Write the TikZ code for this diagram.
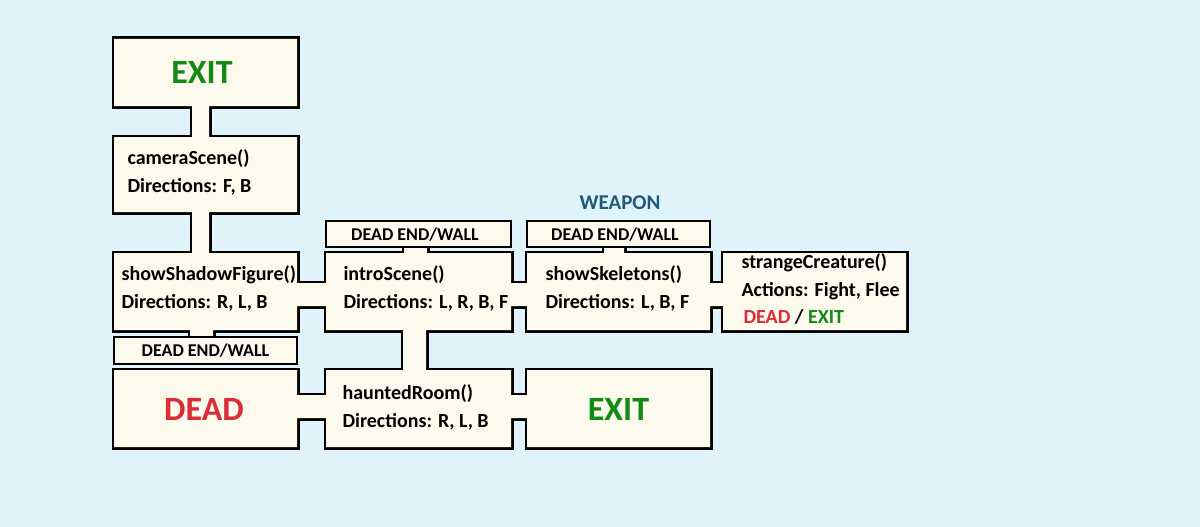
\documentclass[tikz,border=0pt]{standalone}
\usepackage{fontspec}
\setmainfont{Carlito}
\begin{document}
\begin{tikzpicture}[x=1pt,y=-1pt,
  wall/.style={draw=black,line width=5pt},
  de/.style={draw=black,line width=2.5pt,fill=creamc},
  lbl/.style={font=\fontsize{20}{28}\selectfont\bfseries,align=left,anchor=west},
  wl/.style={font=\fontsize{18}{20}\selectfont\bfseries},
  big/.style={font=\fontsize{34}{36}\selectfont\bfseries}]
\definecolor{bg}{HTML}{E0F2FA}
\definecolor{creamc}{HTML}{FCF9ED}
\definecolor{dgreen}{HTML}{138A16}
\definecolor{dred}{HTML}{DC2C36}
\definecolor{teal}{HTML}{1F5A7A}
\fill[bg] (0,0) rectangle (1200,527);
\useasboundingbox (0,0) rectangle (1200,527);
\def\shapes{
  (114,39) rectangle (297,106)
  (192,100) rectangle (209,143)
  (114,137) rectangle (297,212)
  (192,206) rectangle (209,259)
  (114,253) rectangle (297,330)
  (190,324) rectangle (213,340)
  (114,370) rectangle (297,447)
  (291,283) rectangle (332,306)
  (326,253) rectangle (511,330)
  (404,240) rectangle (427,259)
  (403,324) rectangle (426,376)
  (326,370) rectangle (511,447)
  (291,395) rectangle (332,418)
  (505,395) rectangle (533,418)
  (527,370) rectangle (710,447)
  (505,283) rectangle (533,306)
  (527,253) rectangle (710,330)
  (604,240) rectangle (624,259)
  (704,283) rectangle (729,306)
  (723,253) rectangle (906,330)
}
\draw[wall] \shapes;
\fill[creamc] \shapes;
\draw[de] (114,337) rectangle (297,364);
\draw[de] (326,221) rectangle (511,247);
\draw[de] (527,221) rectangle (710,247);
\node[big,text=dgreen] (exitA) at (202,72) {EXIT};
\node[lbl] (cam) at (124,172) {cameraScene()\\Directions: F, B};
\node[lbl] (shadow) at (118,288) {showShadowFigure()\\Directions: R, L, B};
\node[lbl] (intro) at (340,288) {introScene()\\Directions: L, R, B, F};
\node[lbl] (skel) at (542,288) {showSkeletons()\\Directions: L, B, F};
\node[lbl] (creat) at (738,277) {strangeCreature()\\Actions: Fight, Flee};
\node[lbl] (de3) at (740,317) {\textcolor{dred}{DEAD} / \textcolor{dgreen}{EXIT}};
\node[lbl] (haunt) at (339,407) {hauntedRoom()\\Directions: R, L, B};
\node[big,text=dred] (dead) at (204,409) {DEAD};
\node[big,text=dgreen] (exitB) at (618.5,409) {EXIT};
\node[wl] (w1) at (205.5,351) {DEAD END/WALL};
\node[wl] (w2) at (415,235) {DEAD END/WALL};
\node[wl] (w3) at (615,235) {DEAD END/WALL};
\node[font=\fontsize{21}{24}\selectfont\bfseries,text=teal] (weap) at (620,203) {WEAPON};
\end{tikzpicture}
\end{document}
